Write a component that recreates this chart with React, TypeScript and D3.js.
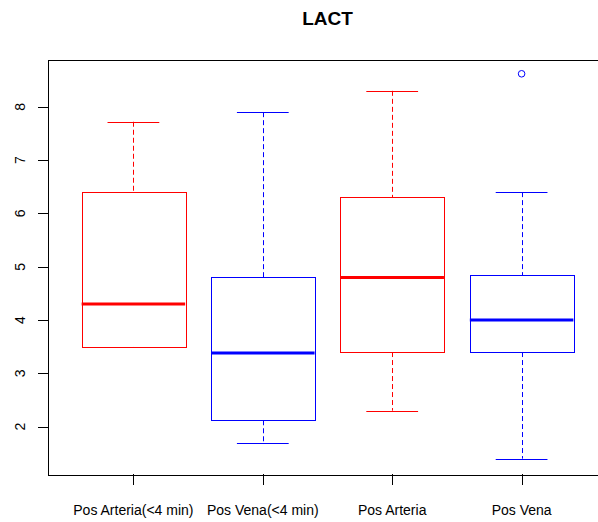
import React from 'react';
import * as d3 from 'd3';

// box statistics
const categories = ['Pos Arteria(<4 min)', 'Pos Vena(<4 min)', 'Pos Arteria', 'Pos Vena'];
const lowWhisker = [3.5, 1.7, 2.3, 1.4];
const q1 = [3.5, 2.12, 3.4, 3.4];
const median = [4.3, 3.38, 4.8, 4.0];
const q3 = [6.4, 4.8, 6.3, 4.84];
const highWhisker = [7.72, 7.9, 8.3, 6.4];
const outliers = [[], [], [], [8.62]];
const boxColors = ['#ff0000', '#0000ff', '#ff0000', '#0000ff'];
const yTicks = [2, 3, 4, 5, 6, 7, 8];

const width = 598;
const height = 522;
const margin = { top: 59.5, left: 48, bottom: 474, right: 607 };

const App = () => {
    const x = d3.scaleLinear().domain([0.34, 4.66]).range([margin.left, margin.right]);
    const y = d3.scaleLinear().domain([1.112, 8.888]).range([margin.bottom, margin.top]);
    const unit = x(1) - x(0);
    const boxHalf = unit * 0.4;
    const capHalf = unit * 0.2;
    const crisp = (v: number) => Math.round(v) + 0.5;

    return (
        <div style={{ position: 'absolute', left: 0, top: 0 }}>
            <svg width={width} height={height} style={{ display: 'block', fontFamily: 'Arial, "Liberation Sans", sans-serif' }}>
                <rect width={width} height={height} fill="#fff" />

                {/* title */}
                <text x={(margin.left + margin.right) / 2} y={25} textAnchor="middle" fontSize={19} fontWeight="bold">
                    LACT
                </text>

                {/* boxes */}
                {categories.map((c, i) => {
                    const cx = x(i + 1);
                    const col = boxColors[i];
                    return (
                        <g key={c}>
                            {/* whiskers */}
                            <line x1={crisp(cx)} x2={crisp(cx)} y1={y(highWhisker[i])} y2={y(q3[i])}
                                stroke={col} strokeDasharray="5,3" />
                            <line x1={crisp(cx)} x2={crisp(cx)} y1={y(q1[i])} y2={y(lowWhisker[i])}
                                stroke={col} strokeDasharray="5,3" />
                            <line x1={cx - capHalf} x2={cx + capHalf} y1={crisp(y(highWhisker[i]))} y2={crisp(y(highWhisker[i]))} stroke={col} />
                            <line x1={cx - capHalf} x2={cx + capHalf} y1={crisp(y(lowWhisker[i]))} y2={crisp(y(lowWhisker[i]))} stroke={col} />
                            {/* box */}
                            <rect x={crisp(cx - boxHalf)} y={crisp(y(q3[i]))}
                                width={Math.round(2 * boxHalf)} height={Math.round(y(q1[i]) - y(q3[i]))}
                                fill="none" stroke={col} />
                            {/* median */}
                            <line x1={cx - boxHalf} x2={cx + boxHalf} y1={y(median[i])} y2={y(median[i])}
                                stroke={col} strokeWidth={3} />
                            {outliers[i].map((o, j) => (
                                <circle key={j} cx={cx} cy={y(o)} r={3.3} fill="none" stroke={col} />
                            ))}
                        </g>
                    );
                })}

                {/* plot frame */}
                <rect x={crisp(margin.left)} y={crisp(margin.top)}
                    width={Math.round(margin.right - margin.left)} height={Math.round(margin.bottom - margin.top)}
                    fill="none" stroke="#000" />

                {/* y axis */}
                {yTicks.map(t => (
                    <g key={t}>
                        <line x1={38} x2={margin.left} y1={crisp(y(t))} y2={crisp(y(t))} stroke="#000" />
                        <text transform={`translate(25,${y(t)}) rotate(-90)`} textAnchor="middle" fontSize={14}>
                            {t}
                        </text>
                    </g>
                ))}

                {/* x axis */}
                {categories.map((c, i) => (
                    <g key={c}>
                        <line x1={crisp(x(i + 1))} x2={crisp(x(i + 1))} y1={margin.bottom} y2={485} stroke="#000" />
                        <text x={x(i + 1)} y={515} textAnchor="middle" fontSize={14}>
                            {c}
                        </text>
                    </g>
                ))}
            </svg>
        </div>
    );
};

export default App;
